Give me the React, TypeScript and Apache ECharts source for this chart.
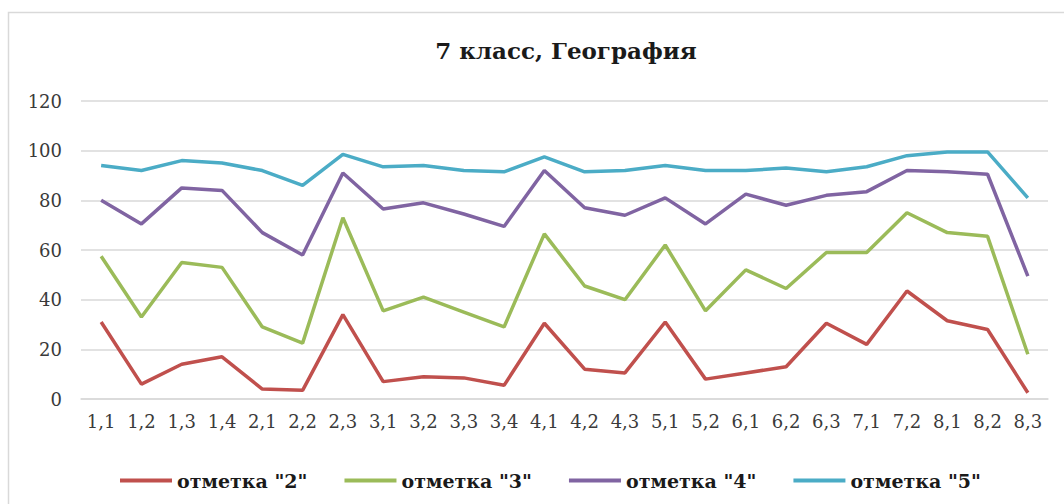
import React, { useEffect, useRef } from "react";
import * as echarts from "echarts";

const categories = ["1,1","1,2","1,3","1,4","2,1","2,2","2,3","3,1","3,2","3,3","3,4","4,1","4,2","4,3","5,1","5,2","6,1","6,2","6,3","7,1","7,2","8,1","8,2","8,3"];
const mark2 = [31, 6, 14, 17, 4, 3.5, 34, 7, 9, 8.5, 5.5, 30.5, 12, 10.5, 31, 8, 10.5, 13, 30.5, 22, 43.5, 31.5, 28, 2.5];
const mark3 = [57.5, 33, 55, 53, 29, 22.5, 73, 35.5, 41, 35, 29, 66.5, 45.5, 40, 62, 35.5, 52, 44.5, 59, 59, 75, 67, 65.5, 18];
const mark4 = [80, 70.5, 85, 84, 67, 58, 91, 76.5, 79, 74.5, 69.5, 92, 77, 74, 81, 70.5, 82.5, 78, 82, 83.5, 92, 91.5, 90.5, 49.5];
const mark5 = [94, 92, 96, 95, 92, 86, 98.5, 93.5, 94, 92, 91.5, 97.5, 91.5, 92, 94, 92, 92, 93, 91.5, 93.5, 98, 99.5, 99.5, 81];
const seriesNames = ['отметка "2"', 'отметка "3"', 'отметка "4"', 'отметка "5"'];
const colors = ["#C0504D", "#9BBB59", "#8064A2", "#4BACC6"];

const FONT = "DejaVu Serif";

export default function App() {
  const ref = useRef<HTMLDivElement>(null);
  useEffect(() => {
    if (!ref.current) return;
    const chart = echarts.init(ref.current, null, { renderer: "svg" });
    const data = [mark2, mark3, mark4, mark5];
    chart.setOption({
      animation: false,
      backgroundColor: "#ffffff",
      title: {
        text: "7 класс, География",
        left: 561,
        top: 34,
        textAlign: "center",
        textStyle: { fontFamily: FONT, fontSize: 23, fontWeight: "bold", color: "#1a1a1a" },
      },
      graphic: [
        {
          type: "rect",
          shape: { x: 8.5, y: 12.5, width: 1070, height: 500 },
          style: { fill: "none", stroke: "#D9D9D9", lineWidth: 1.5 },
          silent: true,
        },
      ],
      legend: {
        left: 115,
        top: 466,
        icon: "rect",
        itemWidth: 52,
        itemHeight: 4,
        itemGap: 37,
        textStyle: { fontFamily: FONT, fontSize: 19, fontWeight: "bold", color: "#1a1a1a" },
        data: seriesNames,
      },
      grid: { left: 81, right: 16, top: 101, bottom: 105 },
      xAxis: {
        type: "category",
        data: categories,
        boundaryGap: true,
        axisLine: { show: true, lineStyle: { color: "#D9D9D9", width: 1.5 } },
        axisTick: { show: false },
        axisLabel: { fontFamily: FONT, fontSize: 18, color: "#3a3a3a", margin: 13, interval: 0 },
      },
      yAxis: {
        type: "value",
        min: 0,
        max: 120,
        interval: 20,
        axisLine: { show: false },
        axisTick: { show: false },
        splitLine: { lineStyle: { color: "#D9D9D9", width: 1.5 } },
        axisLabel: { fontFamily: FONT, fontSize: 18, color: "#3a3a3a", margin: 19 },
      },
      series: seriesNames.map((name, i) => ({
        name,
        type: "line",
        data: data[i],
        symbol: "none",
        showSymbol: false,
        lineStyle: { color: colors[i], width: 3.5 },
        itemStyle: { color: colors[i] },
      })),
    });
    return () => chart.dispose();
  }, []);
  return (
    <div
      ref={ref}
      style={{ position: "fixed", left: 0, top: 0, width: 1064, height: 504 }}
    />
  );
}
